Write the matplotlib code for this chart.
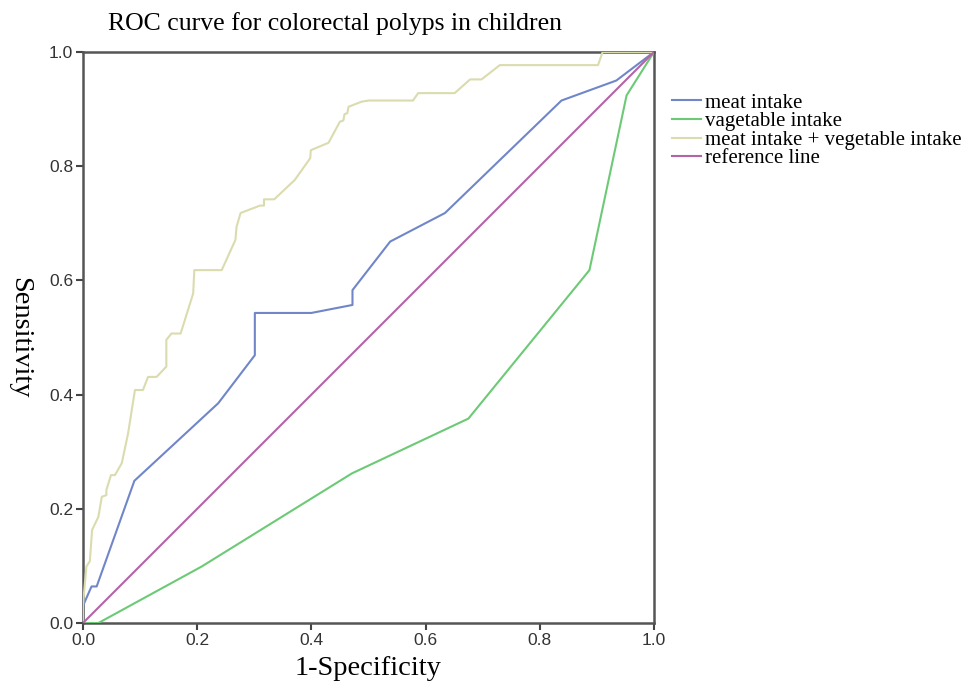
#!/usr/bin/env python3
"""ROC curve for colorectal polyps in children"""
# -*- coding: utf-8 -*-

import matplotlib
matplotlib.use('Agg')
import matplotlib.pyplot as plt

# curve points (1-specificity, sensitivity)
meat_fpr = [0.0, 0.015, 0.024, 0.090, 0.237, 0.301, 0.301, 0.400, 0.472,
            0.472, 0.538, 0.634, 0.838, 0.934, 1.0]
meat_tpr = [0.03, 0.064, 0.064, 0.249, 0.385, 0.469, 0.543, 0.543, 0.557,
            0.583, 0.668, 0.718, 0.915, 0.950, 1.0]

veg_fpr = [0.0, 0.027, 0.208, 0.471, 0.675, 0.887, 0.952, 1.0]
veg_tpr = [0.0, 0.0, 0.099, 0.262, 0.358, 0.618, 0.924, 1.0]

both_fpr = [0.0, 0.0, 0.006, 0.012, 0.016, 0.027, 0.033, 0.041, 0.041,
            0.049, 0.056, 0.068, 0.079, 0.091, 0.105, 0.114, 0.129, 0.146,
            0.146, 0.155, 0.171, 0.193, 0.195, 0.243, 0.267, 0.269, 0.276,
            0.310, 0.317, 0.317, 0.335, 0.371, 0.398, 0.399, 0.430, 0.450,
            0.456, 0.458, 0.463, 0.465, 0.488, 0.500, 0.578, 0.587, 0.651,
            0.678, 0.698, 0.730, 0.902, 0.910, 1.0]
both_tpr = [0.0, 0.032, 0.099, 0.108, 0.163, 0.186, 0.221, 0.224, 0.233,
            0.259, 0.259, 0.280, 0.332, 0.408, 0.408, 0.431, 0.431, 0.449,
            0.496, 0.507, 0.507, 0.577, 0.618, 0.618, 0.671, 0.694, 0.718,
            0.731, 0.731, 0.742, 0.742, 0.776, 0.814, 0.828, 0.841, 0.878,
            0.880, 0.891, 0.893, 0.904, 0.913, 0.915, 0.915, 0.928, 0.928,
            0.952, 0.952, 0.977, 0.977, 1.0, 1.0]

ref_x = [0.0, 1.0]
ref_y = [0.0, 1.0]

labels = ['meat intake', 'vagetable intake',
          'meat intake + vegetable intake', 'reference line']
colors = ['#7086c8', '#6cca76', '#dadcae', '#b463a6']

serif = ['Liberation Serif', 'DejaVu Serif']
sans = ['Liberation Sans', 'DejaVu Sans']

fig = plt.figure(figsize=(9.67, 6.85), dpi=100)
ax = fig.add_axes([0.0858, 0.0905, 0.5905, 0.8336])

lines = []
for (xs, ys), col, lab in zip([(meat_fpr, meat_tpr), (veg_fpr, veg_tpr),
                               (both_fpr, both_tpr), (ref_x, ref_y)],
                              colors, labels):
    ln, = ax.plot(xs, ys, color=col, linewidth=1.5, label=lab, zorder=3)
    lines.append(ln)

ax.set_xlim(0, 1)
ax.set_ylim(0, 1)
ticks = [0.0, 0.2, 0.4, 0.6, 0.8, 1.0]
ax.set_xticks(ticks)
ax.set_yticks(ticks)
ax.set_xticklabels(['%.1f' % t for t in ticks], family=sans, fontsize=12.5,
                   color='#333333')
ax.set_yticklabels(['%.1f' % t for t in ticks], family=sans, fontsize=12.5,
                   color='#333333')
ax.tick_params(direction='out', length=5, width=1.5, color='#444444', pad=2)
for sp in ax.spines.values():
    sp.set_color('#555555')
    sp.set_linewidth(1.8)

ax.set_xlabel('1-Specificity', family=serif, fontsize=20.5, labelpad=6)
ax.set_ylabel('Sensitivity', family=serif, fontsize=20.5, rotation=-90,
              labelpad=30)
fig.text(0.346, 0.966, 'ROC curve for colorectal polyps in children',
         family=serif, fontsize=18.5, ha='center', va='center')

fig.legend(handles=lines, loc='upper left', bbox_to_anchor=(0.695, 0.864),
           frameon=False, prop={'family': serif, 'size': 15},
           handlelength=1.4, handletextpad=0.2, labelspacing=-0.05,
           borderaxespad=0, borderpad=0)

fig.savefig('out.png', dpi=100)
